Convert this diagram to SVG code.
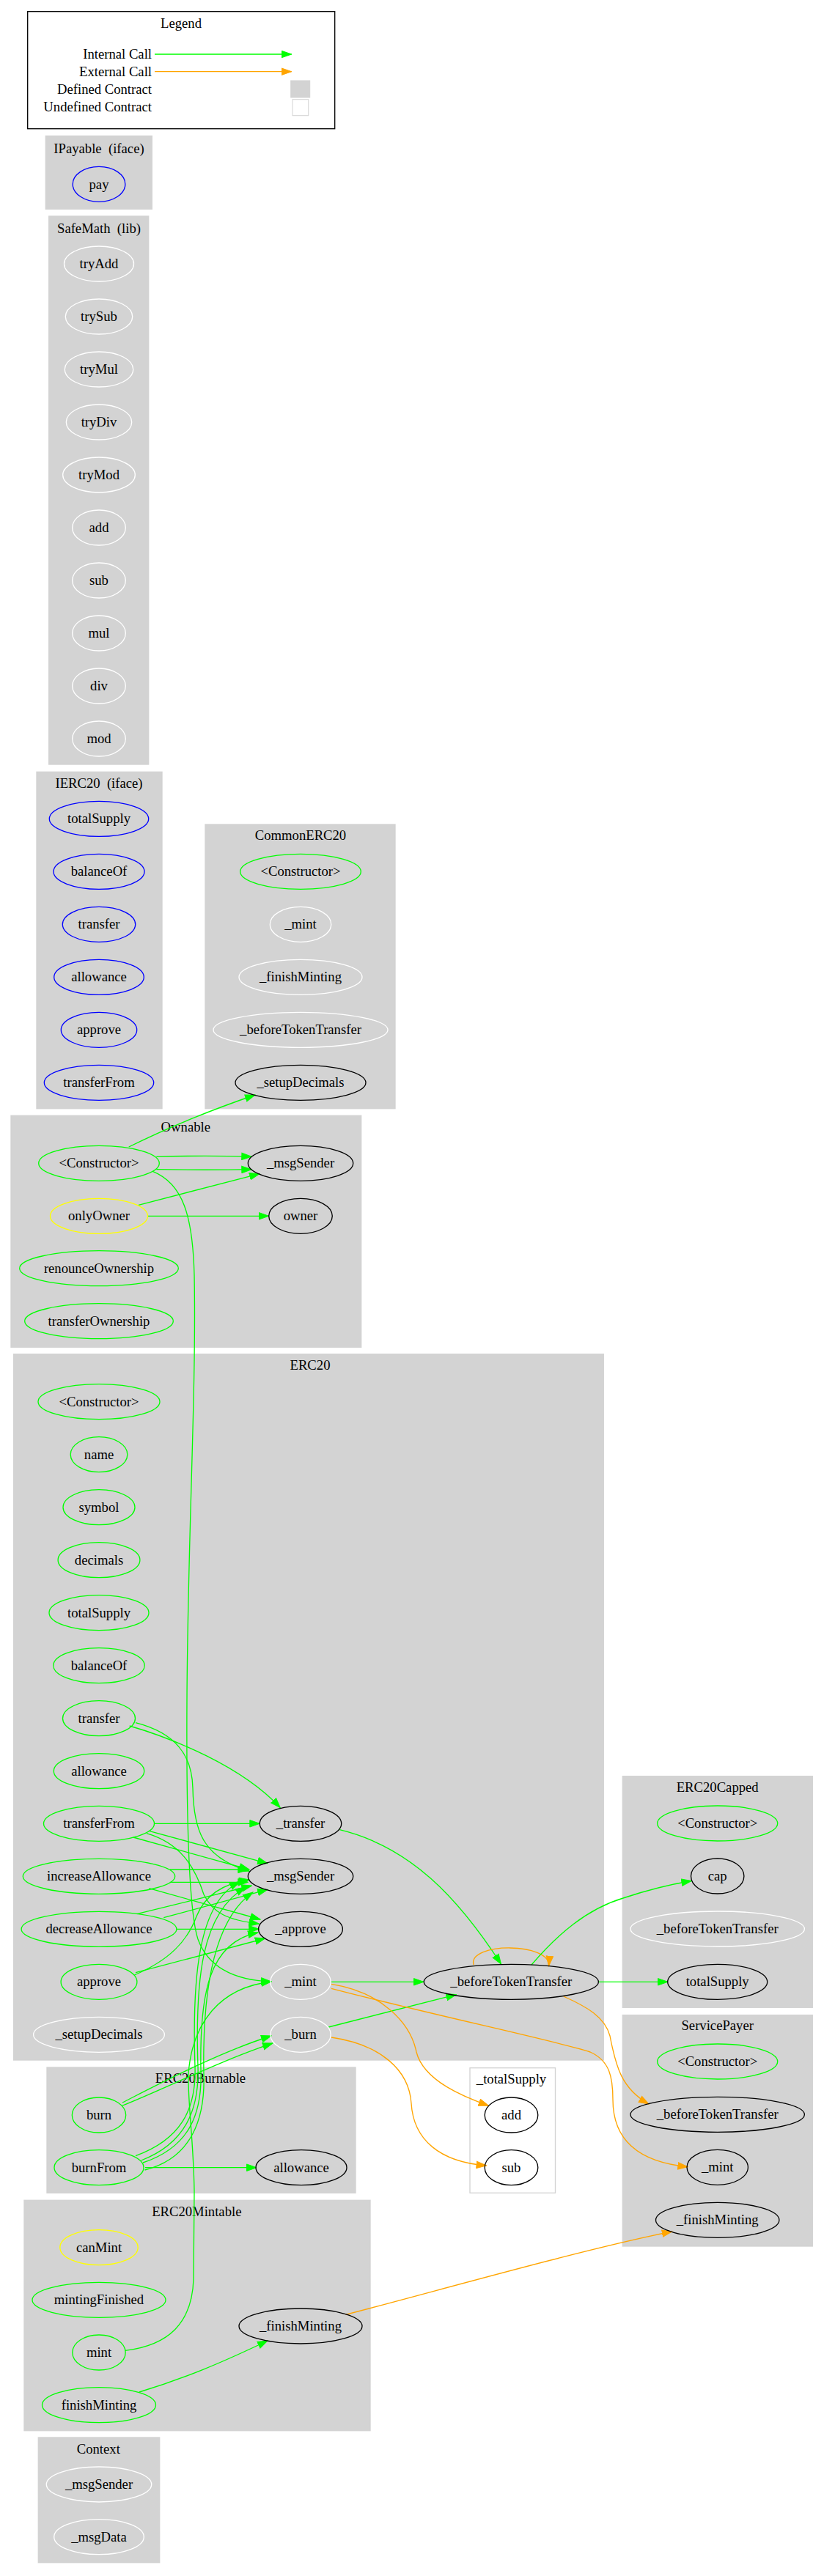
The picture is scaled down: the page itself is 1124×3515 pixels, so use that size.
<svg xmlns="http://www.w3.org/2000/svg" width="1124" height="3515" viewBox="0 0 1124 3515">
<style>
.bg{fill:#ffffff}
.cl{fill:#d3d3d3;stroke:#d3d3d3;stroke-width:1.33}
.cu{fill:#ffffff;stroke:#d3d3d3;stroke-width:1.33}
.n{fill:none;stroke-width:1.33}
.g{stroke:#00ff00}.b{stroke:#0000ff}.y{stroke:#ffff00}.w{stroke:#ffffff}.k{stroke:#000000}
text{font-family:"Liberation Serif","Times New Roman",serif;font-size:18.67px;fill:#000000}
.t{text-anchor:middle}
.r{text-anchor:end}
.eg{fill:none;stroke:#00ff00;stroke-width:1.33;marker-end:url(#ag)}
.eo{fill:none;stroke:#ffa500;stroke-width:1.33;marker-end:url(#ao)}
</style>
<defs>
<marker id="ag" markerUnits="userSpaceOnUse" markerWidth="15" markerHeight="11" refX="14" refY="5.5" orient="auto" viewBox="0 0 15 11"><path d="M0.5,0.8 L14,5.5 L0.5,10.2 Z" fill="#00ff00" stroke="#00ff00" stroke-width="1"/></marker>
<marker id="ao" markerUnits="userSpaceOnUse" markerWidth="15" markerHeight="11" refX="14" refY="5.5" orient="auto" viewBox="0 0 15 11"><path d="M0.5,0.8 L14,5.5 L0.5,10.2 Z" fill="#ffa500" stroke="#ffa500" stroke-width="1"/></marker>
</defs>
<rect class="bg" x="0" y="0" width="1124" height="3515"/>

<g id="legend">
<rect x="37.7" y="15.7" width="419" height="160" fill="#ffffff" stroke="#000000" stroke-width="1.33"/>
<text class="t" x="247" y="38">Legend</text>
<text class="r" x="207" y="80">Internal Call</text>
<text class="r" x="207" y="104">External Call</text>
<text class="r" x="207" y="128">Defined Contract</text>
<text class="r" x="207" y="152">Undefined Contract</text>
<path class="eg" d="M211,74 L397.7,74"/>
<path class="eo" d="M211,97.7 L397.7,97.7"/>
<rect x="396.7" y="110" width="26" height="23" fill="#d3d3d3" stroke="#d3d3d3"/>
<rect x="399" y="135.7" width="21.7" height="22" fill="#ffffff" stroke="#d3d3d3"/>
</g>

<g id="clusters">
<rect class="cl" x="62.3" y="185.5" width="145" height="99.8"/>
<text class="t" x="135" y="209" xml:space="preserve">IPayable  (iface)</text>
<rect class="cl" x="66.7" y="295" width="136" height="748"/>
<text class="t" x="135" y="318" xml:space="preserve">SafeMath  (lib)</text>
<rect class="cl" x="50" y="1053.3" width="171" height="459.4"/>
<text class="t" x="135" y="1074.5" xml:space="preserve">IERC20  (iface)</text>
<rect class="cl" x="280" y="1125" width="259" height="387.7"/>
<text class="t" x="410" y="1146">CommonERC20</text>
<rect class="cl" x="15" y="1522.3" width="477.7" height="316"/>
<text class="t" x="253.3" y="1544">Ownable</text>
<rect class="cl" x="18.6" y="1847.7" width="804.7" height="963.3"/>
<text class="t" x="423" y="1869">ERC20</text>
<rect class="cl" x="849.3" y="2423.7" width="259" height="315.6"/>
<text class="t" x="978.7" y="2445">ERC20Capped</text>
<rect class="cl" x="849.3" y="2749.6" width="259" height="315.4"/>
<text class="t" x="978.7" y="2770">ServicePayer</text>
<rect class="cl" x="64" y="2821" width="421" height="171.3"/>
<text class="t" x="273.5" y="2842">ERC20Burnable</text>
<rect class="cu" x="641" y="2821.7" width="116.5" height="170.6"/>
<text class="t" x="697.5" y="2843">_totalSupply</text>
<rect class="cl" x="33" y="3002.3" width="472" height="314.4"/>
<text class="t" x="268.3" y="3024">ERC20Mintable</text>
<rect class="cl" x="52.3" y="3326" width="165.4" height="170.7"/>
<text class="t" x="134.3" y="3348">Context</text>
</g>

<g id="connectors">
<path class="eg" d="M175.7,1565 C230,1538 290,1514 348,1494"/>
<path class="eg" d="M213.3,1578.3 C260,1577 300,1577 343.3,1578.3"/>
<path class="eg" d="M213.3,1595.7 C260,1596.5 300,1596.5 343.3,1595.7"/>
<path class="eg" d="M189,1644.3 L354,1601.7"/>
<path class="eg" d="M201.3,1659.3 L366.7,1659.3"/>
<path class="eg" d="M208.3,1598.3 C250,1615 263,1660 265,1740 C268,1900 256,2100 255,2320 C254,2500 258,2610 270,2646 C284,2685 320,2702 370,2704"/>
<path class="eg" d="M176.7,2355 C235,2372 330,2410 382.3,2466.7"/>
<path class="eg" d="M185,2350.7 C240,2365 262,2395 263,2440 C264,2495 275,2535 340,2553"/>
<path class="eg" d="M210.5,2488.3 L354.3,2488.3"/>
<path class="eg" d="M203.3,2498.3 L365,2542.7"/>
<path class="eg" d="M181.7,2507 L340,2551"/>
<path class="eg" d="M200,2501.7 C245,2515 265,2545 278,2585 C290,2610 310,2620 353.3,2625"/>
<path class="eg" d="M231.7,2551 L338.3,2551"/>
<path class="eg" d="M231.7,2568.3 L338.3,2568.3"/>
<path class="eg" d="M203.3,2576.7 L355,2619"/>
<path class="eg" d="M186.7,2611.7 L343.3,2573"/>
<path class="eg" d="M223.3,2616.7 L365,2578.3"/>
<path class="eg" d="M241,2632.3 L353.3,2632.3"/>
<path class="eg" d="M185,2691.7 L361.7,2645"/>
<path class="eg" d="M183.3,2695 C230,2675 255,2650 268,2615 C280,2585 305,2570 340,2565"/>
<path class="eg" d="M463.3,2496.7 C560,2520 625,2590 683.5,2680"/>
<path class="eg" d="M451.5,2704.3 L578,2704.3"/>
<path class="eg" d="M448.3,2766 C510,2750 570,2735 622.3,2721.7"/>
<path class="eo" d="M646,2681 C638,2650 752,2650 748.5,2682.7"/>
<path class="eo" d="M452,2707.3 C520,2718 560,2760 568,2800 C578,2840 635,2862 666.5,2873.3"/>
<path class="eo" d="M452,2780 C520,2790 558,2825 561,2870 C564,2920 600,2950 663.5,2955"/>
<path class="eo" d="M452,2713.3 C600,2752 760,2785 805,2800 C832,2812 836,2835 836,2865 C836,2920 870,2950 938.3,2956.7"/>
<path class="eo" d="M768.6,2724 C800,2738 825,2752 832,2778 C840,2820 848,2850 885,2871"/>
<path class="eg" d="M725,2681 C760,2640 800,2605 850,2590 C880,2580 910,2572 943.3,2566.5"/>
<path class="eg" d="M816.4,2704.3 L911,2704.3"/>
<path class="eg" d="M167,2869 C220,2842 300,2800 370,2778"/>
<path class="eg" d="M166,2873.5 C225,2850 300,2812 372,2788"/>
<path class="eg" d="M185,2941.7 C245,2920 268,2880 266,2820 C262,2700 270,2595 327,2568"/>
<path class="eg" d="M192.5,2948 C252,2925 272,2880 270,2820 C266,2700 275,2610 335,2575"/>
<path class="eg" d="M195,2951 C258,2930 276,2885 274,2825 C272,2720 285,2650 352,2637"/>
<path class="eg" d="M197.5,2961 C262,2945 280,2890 278,2830 C276,2720 290,2620 345,2582"/>
<path class="eg" d="M198,2957.7 L350,2957.7"/>
<path class="eg" d="M171,3207.3 C230,3200 262,3170 264,3110 L265,2990 C264,2920 256,2870 257,2830 C262,2760 300,2712 370,2704"/>
<path class="eg" d="M190,3264 C250,3246 300,3225 365,3194"/>
<path class="eo" d="M471.7,3158.3 C600,3125 800,3068 916.7,3045"/>
</g>

<g id="IPayable_pay"><ellipse class="n b" cx="135" cy="251.3" rx="35.8" ry="24"/><text class="t" x="135" y="257.5">pay</text></g>

<g id="SafeMath_tryAdd"><ellipse class="n w" cx="135" cy="360" rx="47.5" ry="24"/><text class="t" x="135" y="366">tryAdd</text></g>
<g id="SafeMath_trySub"><ellipse class="n w" cx="135" cy="432" rx="45.7" ry="24"/><text class="t" x="135" y="438">trySub</text></g>
<g id="SafeMath_tryMul"><ellipse class="n w" cx="135" cy="504" rx="46.7" ry="24"/><text class="t" x="135" y="510">tryMul</text></g>
<g id="SafeMath_tryDiv"><ellipse class="n w" cx="135" cy="576" rx="44.7" ry="24"/><text class="t" x="135" y="582">tryDiv</text></g>
<g id="SafeMath_tryMod"><ellipse class="n w" cx="135" cy="648" rx="49.3" ry="24"/><text class="t" x="135" y="654">tryMod</text></g>
<g id="SafeMath_add"><ellipse class="n w" cx="135" cy="720" rx="36.3" ry="24"/><text class="t" x="135" y="726">add</text></g>
<g id="SafeMath_sub"><ellipse class="n w" cx="135" cy="792" rx="36.3" ry="24"/><text class="t" x="135" y="798">sub</text></g>
<g id="SafeMath_mul"><ellipse class="n w" cx="135" cy="864" rx="36.3" ry="24"/><text class="t" x="135" y="870">mul</text></g>
<g id="SafeMath_div"><ellipse class="n w" cx="135" cy="936" rx="36.3" ry="24"/><text class="t" x="135" y="942">div</text></g>
<g id="SafeMath_mod"><ellipse class="n w" cx="135" cy="1008" rx="36.3" ry="24"/><text class="t" x="135" y="1014">mod</text></g>

<g id="IERC20_totalSupply"><ellipse class="n b" cx="135" cy="1117.3" rx="67.7" ry="24"/><text class="t" x="135" y="1123.3">totalSupply</text></g>
<g id="IERC20_balanceOf"><ellipse class="n b" cx="135" cy="1189.3" rx="62" ry="24"/><text class="t" x="135" y="1195.3">balanceOf</text></g>
<g id="IERC20_transfer"><ellipse class="n b" cx="135" cy="1261.3" rx="49.7" ry="24"/><text class="t" x="135" y="1267.3">transfer</text></g>
<g id="IERC20_allowance"><ellipse class="n b" cx="135" cy="1333.3" rx="61.3" ry="24"/><text class="t" x="135" y="1339.3">allowance</text></g>
<g id="IERC20_approve"><ellipse class="n b" cx="135" cy="1405.3" rx="51.7" ry="24"/><text class="t" x="135" y="1411.3">approve</text></g>
<g id="IERC20_transferFrom"><ellipse class="n b" cx="135" cy="1477.3" rx="74.7" ry="24"/><text class="t" x="135" y="1483.3">transferFrom</text></g>

<g id="CommonERC20_constructor"><ellipse class="n g" cx="410" cy="1189.3" rx="82.3" ry="24"/><text class="t" x="410" y="1195.3">&lt;Constructor&gt;</text></g>
<g id="CommonERC20_mint"><ellipse class="n w" cx="410" cy="1261.3" rx="41.7" ry="24"/><text class="t" x="410" y="1267.3">_mint</text></g>
<g id="CommonERC20_finishMinting"><ellipse class="n w" cx="410" cy="1333.3" rx="84" ry="24"/><text class="t" x="410" y="1339.3">_finishMinting</text></g>
<g id="CommonERC20_beforeTokenTransfer"><ellipse class="n w" cx="410" cy="1405.3" rx="119" ry="24"/><text class="t" x="410" y="1411.3">_beforeTokenTransfer</text></g>
<g id="CommonERC20_setupDecimals"><ellipse class="n k" cx="410" cy="1477.3" rx="89" ry="24"/><text class="t" x="410" y="1483.3">_setupDecimals</text></g>

<g id="Ownable_constructor"><ellipse class="n g" cx="135" cy="1587.3" rx="82.3" ry="24"/><text class="t" x="135" y="1593.3">&lt;Constructor&gt;</text></g>
<g id="Ownable_onlyOwner"><ellipse class="n y" cx="135" cy="1659.3" rx="66.5" ry="24"/><text class="t" x="135" y="1665.3">onlyOwner</text></g>
<g id="Ownable_renounceOwnership"><ellipse class="n g" cx="135" cy="1730.7" rx="108.3" ry="24"/><text class="t" x="135" y="1736.7">renounceOwnership</text></g>
<g id="Ownable_transferOwnership"><ellipse class="n g" cx="135" cy="1802.7" rx="101.3" ry="24"/><text class="t" x="135" y="1808.7">transferOwnership</text></g>
<g id="Ownable_msgSender"><ellipse class="n k" cx="410" cy="1587.3" rx="71.7" ry="24"/><text class="t" x="410" y="1593.3">_msgSender</text></g>
<g id="Ownable_owner"><ellipse class="n k" cx="410" cy="1659.3" rx="43.3" ry="24"/><text class="t" x="410" y="1665.3">owner</text></g>

<g id="ERC20_constructor"><ellipse class="n g" cx="135" cy="1912.7" rx="83" ry="24"/><text class="t" x="135" y="1918.7">&lt;Constructor&gt;</text></g>
<g id="ERC20_name"><ellipse class="n g" cx="135" cy="1984.7" rx="38.8" ry="24"/><text class="t" x="135" y="1990.7">name</text></g>
<g id="ERC20_symbol"><ellipse class="n g" cx="135" cy="2056.7" rx="49" ry="24"/><text class="t" x="135" y="2062.7">symbol</text></g>
<g id="ERC20_decimals"><ellipse class="n g" cx="135" cy="2128.7" rx="55.9" ry="24"/><text class="t" x="135" y="2134.7">decimals</text></g>
<g id="ERC20_totalSupply"><ellipse class="n g" cx="135" cy="2200.7" rx="68" ry="24"/><text class="t" x="135" y="2206.7">totalSupply</text></g>
<g id="ERC20_balanceOf"><ellipse class="n g" cx="135" cy="2272.7" rx="62.2" ry="24"/><text class="t" x="135" y="2278.7">balanceOf</text></g>
<g id="ERC20_transfer"><ellipse class="n g" cx="135" cy="2344.7" rx="49.5" ry="24"/><text class="t" x="135" y="2350.7">transfer</text></g>
<g id="ERC20_allowance"><ellipse class="n g" cx="135" cy="2416.7" rx="61.7" ry="24"/><text class="t" x="135" y="2422.7">allowance</text></g>
<g id="ERC20_transferFrom"><ellipse class="n g" cx="135" cy="2488.3" rx="75.5" ry="24"/><text class="t" x="135" y="2494.3">transferFrom</text></g>
<g id="ERC20_increaseAllowance"><ellipse class="n g" cx="135" cy="2560.3" rx="103.7" ry="24"/><text class="t" x="135" y="2566.3">increaseAllowance</text></g>
<g id="ERC20_decreaseAllowance"><ellipse class="n g" cx="135" cy="2632.3" rx="105.9" ry="24"/><text class="t" x="135" y="2638.3">decreaseAllowance</text></g>
<g id="ERC20_approve"><ellipse class="n g" cx="135" cy="2704.3" rx="51.9" ry="24"/><text class="t" x="135" y="2710.3">approve</text></g>
<g id="ERC20_setupDecimals"><ellipse class="n w" cx="135" cy="2776.3" rx="89.4" ry="24"/><text class="t" x="135" y="2782.3">_setupDecimals</text></g>
<g id="ERC20__transfer"><ellipse class="n k" cx="410" cy="2488.3" rx="55.7" ry="24"/><text class="t" x="410" y="2494.3">_transfer</text></g>
<g id="ERC20_msgSender"><ellipse class="n k" cx="410" cy="2560.3" rx="71.7" ry="24"/><text class="t" x="410" y="2566.3">_msgSender</text></g>
<g id="ERC20__approve"><ellipse class="n k" cx="410" cy="2632.3" rx="57.4" ry="24"/><text class="t" x="410" y="2638.3">_approve</text></g>
<g id="ERC20__mint"><ellipse class="n w" cx="410" cy="2704.3" rx="41.2" ry="24"/><text class="t" x="410" y="2710.3">_mint</text></g>
<g id="ERC20__burn"><ellipse class="n w" cx="410" cy="2776.3" rx="41.2" ry="24"/><text class="t" x="410" y="2782.3">_burn</text></g>
<g id="ERC20_beforeTokenTransfer"><ellipse class="n k" cx="697.3" cy="2704.3" rx="119.1" ry="24"/><text class="t" x="697.3" y="2710.3">_beforeTokenTransfer</text></g>

<g id="ERC20Capped_constructor"><ellipse class="n g" cx="978.7" cy="2488" rx="82" ry="24"/><text class="t" x="978.7" y="2494">&lt;Constructor&gt;</text></g>
<g id="ERC20Capped_cap"><ellipse class="n k" cx="978.7" cy="2560" rx="36.2" ry="24"/><text class="t" x="978.7" y="2566">cap</text></g>
<g id="ERC20Capped_beforeTokenTransfer"><ellipse class="n w" cx="978.7" cy="2632" rx="118.7" ry="24"/><text class="t" x="978.7" y="2638">_beforeTokenTransfer</text></g>
<g id="ERC20Capped_totalSupply"><ellipse class="n k" cx="978.7" cy="2704.3" rx="68" ry="24"/><text class="t" x="978.7" y="2710.3">totalSupply</text></g>

<g id="ServicePayer_constructor"><ellipse class="n g" cx="978.7" cy="2813" rx="82" ry="24"/><text class="t" x="978.7" y="2819">&lt;Constructor&gt;</text></g>
<g id="ServicePayer_beforeTokenTransfer"><ellipse class="n k" cx="978.7" cy="2885.3" rx="118.7" ry="24"/><text class="t" x="978.7" y="2891.3">_beforeTokenTransfer</text></g>
<g id="ServicePayer_mint"><ellipse class="n k" cx="978.7" cy="2957.3" rx="41.7" ry="24"/><text class="t" x="978.7" y="2963.3">_mint</text></g>
<g id="ServicePayer_finishMinting"><ellipse class="n k" cx="978.7" cy="3029.3" rx="84.2" ry="24"/><text class="t" x="978.7" y="3035.3">_finishMinting</text></g>

<g id="totalSupply_add"><ellipse class="n k" cx="697.5" cy="2886" rx="36.3" ry="24"/><text class="t" x="697.5" y="2892">add</text></g>
<g id="totalSupply_sub"><ellipse class="n k" cx="697.5" cy="2957.7" rx="36.3" ry="24"/><text class="t" x="697.5" y="2963.7">sub</text></g>

<g id="ERC20Burnable_burn"><ellipse class="n g" cx="135" cy="2886" rx="36.7" ry="24"/><text class="t" x="135" y="2892">burn</text></g>
<g id="ERC20Burnable_burnFrom"><ellipse class="n g" cx="135" cy="2957.7" rx="61" ry="24"/><text class="t" x="135" y="2963.7">burnFrom</text></g>
<g id="ERC20Burnable_allowance"><ellipse class="n k" cx="411" cy="2957.7" rx="62" ry="24"/><text class="t" x="411" y="2963.7">allowance</text></g>

<g id="ERC20Mintable_canMint"><ellipse class="n y" cx="135" cy="3066.7" rx="53.2" ry="24"/><text class="t" x="135" y="3072.7">canMint</text></g>
<g id="ERC20Mintable_mintingFinished"><ellipse class="n g" cx="135" cy="3138.3" rx="91" ry="24"/><text class="t" x="135" y="3144.3">mintingFinished</text></g>
<g id="ERC20Mintable_mint"><ellipse class="n g" cx="135" cy="3210" rx="36.2" ry="24"/><text class="t" x="135" y="3216">mint</text></g>
<g id="ERC20Mintable_finishMinting"><ellipse class="n g" cx="135" cy="3281.7" rx="77.5" ry="24"/><text class="t" x="135" y="3287.7">finishMinting</text></g>
<g id="ERC20Mintable__finishMinting"><ellipse class="n k" cx="410" cy="3174" rx="84" ry="24"/><text class="t" x="410" y="3180">_finishMinting</text></g>

<g id="Context_msgSender"><ellipse class="n w" cx="135" cy="3390" rx="71.7" ry="24"/><text class="t" x="135" y="3396">_msgSender</text></g>
<g id="Context_msgData"><ellipse class="n w" cx="135" cy="3461.7" rx="61.3" ry="24"/><text class="t" x="135" y="3467.7">_msgData</text></g>
</svg>
